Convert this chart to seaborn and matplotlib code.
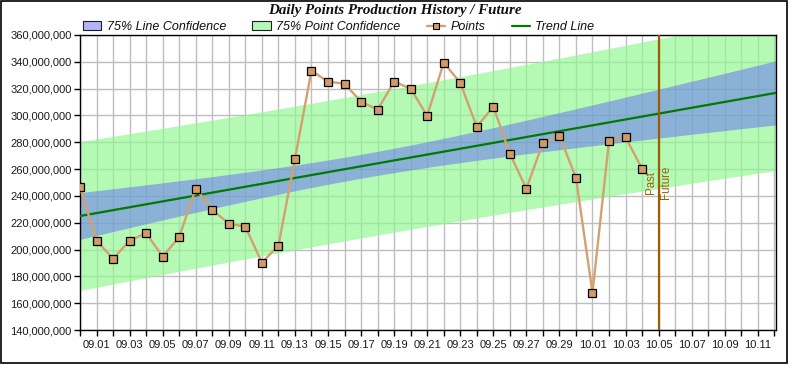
import numpy as np
import pandas as pd
import matplotlib
matplotlib.use("Agg")
import matplotlib.pyplot as plt
from matplotlib.patches import Patch, Rectangle
from matplotlib.lines import Line2D
from matplotlib.ticker import FuncFormatter, MultipleLocator
import seaborn as sns

# ---------------- data ----------------
point_dates = ["08.31", "09.01", "09.02", "09.03", "09.04", "09.05", "09.06", "09.07",
               "09.08", "09.09", "09.10", "09.11", "09.12", "09.13", "09.14", "09.15",
               "09.16", "09.17", "09.18", "09.19", "09.20", "09.21", "09.22", "09.23",
               "09.24", "09.25", "09.26", "09.27", "09.28", "09.29", "09.30", "10.01",
               "10.02", "10.03", "10.04"]
points_millions = [246.6, 206.6, 193.2, 206.6, 212.3, 194.7, 209.4, 245.4,
                   229.7, 219.3, 217.1, 190.2, 202.9, 267.5, 333.4, 325.2,
                   323.7, 310.3, 304.3, 325.2, 320.0, 299.8, 339.4, 324.4,
                   291.6, 306.5, 271.5, 245.4, 279.7, 284.9, 253.6, 167.8,
                   281.2, 283.7, 260.3]
tick_labels = ["09.01", "09.03", "09.05", "09.07", "09.09", "09.11", "09.13", "09.15",
               "09.17", "09.19", "09.21", "09.23", "09.25", "09.27", "09.29", "10.01",
               "10.03", "10.05", "10.07", "10.09", "10.11"]
axis_start = "08.31"
axis_end = "10.12"
past_future_date = "10.05"
y_ticks_millions = [140, 160, 180, 200, 220, 240, 260, 280, 300, 320, 340, 360]
t_value_75 = 1.168  # two-sided 75% Student t, 33 dof

YEAR = "2009."


def to_day(label):
    d = pd.to_datetime(YEAR + label, format="%Y.%m.%d")
    d0 = pd.to_datetime(YEAR + axis_start, format="%Y.%m.%d")
    return (d - d0).days


x_days = np.array([to_day(d) for d in point_dates], dtype=float)
y_vals = np.array(points_millions) * 1e6
df = pd.DataFrame({"day": x_days, "points": y_vals})

# ---------------- regression (trend + confidence bands) ----------------
n = len(x_days)
xbar = x_days.mean()
sxx = ((x_days - xbar) ** 2).sum()
slope = ((x_days - xbar) * (y_vals - y_vals.mean())).sum() / sxx
intercept = y_vals.mean() - slope * xbar
resid = y_vals - (intercept + slope * x_days)
s = np.sqrt((resid ** 2).sum() / (n - 2))

x_end = to_day(axis_end) + 0.1
xx = np.linspace(0, x_end, 300)
trend = intercept + slope * xx
hw_line = t_value_75 * s * np.sqrt(1 / n + (xx - xbar) ** 2 / sxx)
hw_point = t_value_75 * s * np.sqrt(1 + 1 / n + (xx - xbar) ** 2 / sxx)
trend_df = pd.DataFrame({"day": xx, "trend": trend})

# ---------------- figure ----------------
sns.set_theme(style="white")
plt.rcParams["font.family"] = ["Liberation Sans", "DejaVu Sans"]

W, H = 790, 365
fig = plt.figure(figsize=(W / 100, H / 100), dpi=100)
fig.patch.set_facecolor("white")
ax = fig.add_axes([80 / W, (H - 330) / H, (776 - 80) / W, (330 - 35) / H])
ax.set_facecolor("white")

# grid
ax.set_axisbelow(True)
ax.xaxis.set_major_locator(MultipleLocator(1))
ax.grid(True, which="major", color="#BEBEBE", linewidth=1.0, zorder=0)

green_col = (145 / 255, 248 / 255, 145 / 255)
blue_col = (100 / 255, 105 / 255, 250 / 255)
ax.fill_between(xx, trend - hw_point, trend + hw_point, color=green_col, alpha=0.68,
                linewidth=0, zorder=1)
ax.fill_between(xx, trend - hw_line, trend + hw_line, color=blue_col, alpha=0.5,
                linewidth=0, zorder=2)

sns.lineplot(data=trend_df, x="day", y="trend", ax=ax, color="#007A00", linewidth=1.6,
             zorder=4, legend=False)
sns.lineplot(data=df, x="day", y="points", ax=ax, color="#D4A070", linewidth=1.7,
             marker="s", markersize=6.2, markerfacecolor="#D29A68",
             markeredgecolor="black", markeredgewidth=0.9, zorder=5, legend=False)

# past / future line
pf = to_day(past_future_date)
ax.axvline(pf, color="#A05A00", linewidth=1.6, zorder=6)
ax.text(pf - 0.45, 0.5, "Past", transform=ax.get_xaxis_transform(), rotation=90,
        ha="center", va="center", fontsize=8.3, color="#A0600A", zorder=7)
ax.text(pf + 0.42, 0.5, "Future", transform=ax.get_xaxis_transform(), rotation=90,
        ha="center", va="center", fontsize=8.3, color="#A0600A", zorder=7)

# axes limits & ticks
ax.set_xlim(0, x_end)
ax.set_ylim(y_ticks_millions[0] * 1e6, y_ticks_millions[-1] * 1e6)
ax.set_yticks([v * 1e6 for v in y_ticks_millions])
ax.yaxis.set_major_formatter(FuncFormatter(lambda v, p: f"{v:,.0f}"))

label_pos = [to_day(t) for t in tick_labels]
day_ticks = np.arange(0, int(x_end) + 1)
ax.set_xticks(day_ticks)
lab_map = dict(zip(label_pos, tick_labels))
ax.set_xticklabels([lab_map.get(int(i), "") for i in day_ticks])

ax.tick_params(axis="both", which="major", direction="out", length=4, width=1,
               color="black", labelsize=8.0, labelcolor="#1a1a1a", pad=2,
               bottom=True, left=True)
ax.tick_params(axis="x", pad=3)
ax.set_xlabel("")
ax.set_ylabel("")
for sp in ax.spines.values():
    sp.set_color("black")
    sp.set_linewidth(1.0)
    sp.set_visible(True)

# title
fig.text(0.5, 1 - 10.5 / H, "Daily Points Production History / Future",
         ha="center", va="center", fontsize=10.8, fontweight="bold", fontstyle="italic",
         family=["Liberation Serif", "DejaVu Serif"], color="#101010")

# legend
handles = [
    Patch(facecolor="#B2B4FC", edgecolor="#202020", linewidth=0.8, label="75% Line Confidence"),
    Patch(facecolor="#B4FAB4", edgecolor="#202020", linewidth=0.8, label="75% Point Confidence"),
    Line2D([0], [0], color="#D4A070", linewidth=1.7, marker="s", markersize=5,
           markerfacecolor="#D29A68", markeredgecolor="black", markeredgewidth=0.8,
           label="Points"),
    Line2D([0], [0], color="#007A00", linewidth=1.6, label="Trend Line"),
]
leg = fig.legend(handles=handles, loc="center left", bbox_to_anchor=(83 / W, 1 - 27 / H),
                 ncol=4, frameon=False, borderpad=0, borderaxespad=0,
                 handlelength=1.45, handleheight=0.7, handletextpad=0.45,
                 columnspacing=2.1, prop={"size": 9.0, "style": "italic",
                                          "family": ["Liberation Sans", "DejaVu Sans"]})
for t in leg.get_texts():
    t.set_color("#101010")

# outer frame
fig.patches.append(Rectangle((1 / W, 2 / H), (787 - 1) / W, (H - 3) / H,
                             transform=fig.transFigure, fill=False,
                             edgecolor="black", linewidth=1.2, zorder=10))

fig.savefig("out.png", dpi=100, facecolor="white")
